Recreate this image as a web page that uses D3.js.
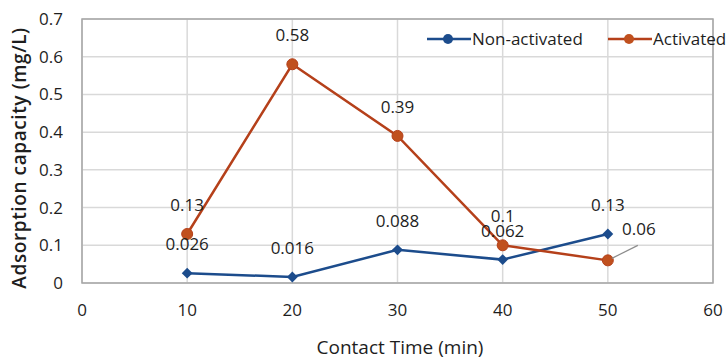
<!DOCTYPE html>
<html>
<head>
<meta charset="utf-8">
<script src="https://cdn.jsdelivr.net/npm/d3@7"></script>
<style>
  body { margin: 0; background: #fff; }
  text { font-family: "Open Sans", "Noto Sans", sans-serif; fill: #1e1e1e; }
</style>
</head>
<body>
<div id="chart"></div>
<script>
var times = [10, 20, 30, 40, 50];
var nonActivated = [0.026, 0.016, 0.088, 0.062, 0.13];
var activated = [0.13, 0.58, 0.39, 0.1, 0.06];
var xTicks = [0, 10, 20, 30, 40, 50, 60];
var yTicks = [0, 0.1, 0.2, 0.3, 0.4, 0.5, 0.6, 0.7];
var seriesNames = ["Non-activated", "Activated"];

var w = 727, h = 360;
var pLeft = 82, pRight = 713, pTop = 19, pBottom = 283;

var svg = d3.select("#chart").append("svg")
    .attr("width", w)
    .attr("height", h);

var x = d3.scaleLinear().domain([0, 60]).range([pLeft, pRight]);
var y = d3.scaleLinear().domain([0, 0.7]).range([pBottom, pTop]);

// grid
svg.selectAll(".hg").data(yTicks).enter().append("line")
    .attr("x1", pLeft).attr("x2", pRight)
    .attr("y1", function(d) { return y(d); })
    .attr("y2", function(d) { return y(d); })
    .attr("stroke", "#d9d9d9").attr("stroke-width", 1.5);
svg.selectAll(".vg").data(xTicks).enter().append("line")
    .attr("y1", pTop).attr("y2", pBottom)
    .attr("x1", function(d) { return x(d); })
    .attr("x2", function(d) { return x(d); })
    .attr("stroke", "#d9d9d9").attr("stroke-width", 1.5);

// plot border
svg.append("rect")
    .attr("x", pLeft).attr("y", pTop)
    .attr("width", pRight - pLeft).attr("height", pBottom - pTop)
    .attr("fill", "none").attr("stroke", "#a6a6a6").attr("stroke-width", 1.5);

// tick labels
svg.selectAll(".yt").data(yTicks).enter().append("text")
    .attr("x", 63)
    .attr("y", function(d) { return y(d) + 6; })
    .attr("text-anchor", "end")
    .attr("font-size", 17)
    .text(function(d) { return d; });
svg.selectAll(".xt").data(xTicks).enter().append("text")
    .attr("x", function(d) { return x(d); })
    .attr("y", 316)
    .attr("text-anchor", "middle")
    .attr("font-size", 17)
    .text(function(d) { return d; });

// axis titles
svg.append("text")
    .attr("transform", "translate(26,158) rotate(-90)")
    .attr("text-anchor", "middle")
    .attr("font-size", 19)
    .attr("font-weight", 600)
    .attr("letter-spacing", 0.6)
    .text("Adsorption capacity (mg/L)");
svg.append("text")
    .attr("x", 400).attr("y", 354)
    .attr("text-anchor", "middle")
    .attr("font-size", 19)
    .text("Contact Time (min)");

var blue = "#1c4c8c", red = "#b5401a";

var line = d3.line()
    .x(function(d) { return x(d[0]); })
    .y(function(d) { return y(d[1]); });

var blueData = d3.zip(times, nonActivated);
var redData = d3.zip(times, activated);

svg.append("path").datum(blueData).attr("d", line)
    .attr("fill", "none").attr("stroke", blue).attr("stroke-width", 2.5);
svg.append("path").datum(redData).attr("d", line)
    .attr("fill", "none").attr("stroke", red).attr("stroke-width", 2.5);

var diamond = d3.symbol().type(d3.symbolDiamond2).size(75);
svg.selectAll(".bm").data(blueData).enter().append("path")
    .attr("d", diamond)
    .attr("transform", function(d) { return "translate(" + x(d[0]) + "," + y(d[1]) + ")"; })
    .attr("fill", blue);
svg.selectAll(".rm").data(redData).enter().append("circle")
    .attr("cx", function(d) { return x(d[0]); })
    .attr("cy", function(d) { return y(d[1]); })
    .attr("r", 5.5)
    .attr("fill", "#c0501e")
    .attr("stroke", red).attr("stroke-width", 1);

// data labels
svg.selectAll(".bl").data(blueData).enter().append("text")
    .attr("x", function(d) { return x(d[0]); })
    .attr("y", function(d) { return y(d[1]) - 23; })
    .attr("text-anchor", "middle")
    .attr("font-size", 17)
    .text(function(d) { return d[1]; });

svg.selectAll(".rl").data(redData).enter().append("text")
    .attr("x", function(d, i) { return i === 4 ? x(d[0]) + 31 : x(d[0]); })
    .attr("y", function(d, i) { return i === 4 ? y(d[1]) - 25 : y(d[1]) - 23; })
    .attr("text-anchor", "middle")
    .attr("font-size", 17)
    .text(function(d) { return d[1]; });

// leader line for last activated label
var last = redData[4];
svg.append("line")
    .attr("x1", x(last[0]) + 4).attr("y1", y(last[1]) - 2)
    .attr("x2", x(last[0]) + 30).attr("y2", y(last[1]) - 15)
    .attr("stroke", "#8c8c8c").attr("stroke-width", 1.2);

// legend
var legend = svg.selectAll(".lg").data(seriesNames).enter().append("g")
    .attr("transform", function(d, i) { return "translate(" + (i === 0 ? 427 : 608) + ",39)"; });
legend.append("line")
    .attr("x1", 0).attr("x2", 44).attr("y1", 0).attr("y2", 0)
    .attr("stroke", function(d, i) { return i === 0 ? blue : red; })
    .attr("stroke-width", 2.5);
legend.append("circle")
    .attr("cx", 21).attr("cy", 0).attr("r", 5)
    .attr("fill", function(d, i) { return i === 0 ? blue : "#c0501e"; });
legend.append("text")
    .attr("x", 45).attr("y", 6)
    .attr("font-size", 17)
    .text(function(d) { return d; });
</script>
</body>
</html>
